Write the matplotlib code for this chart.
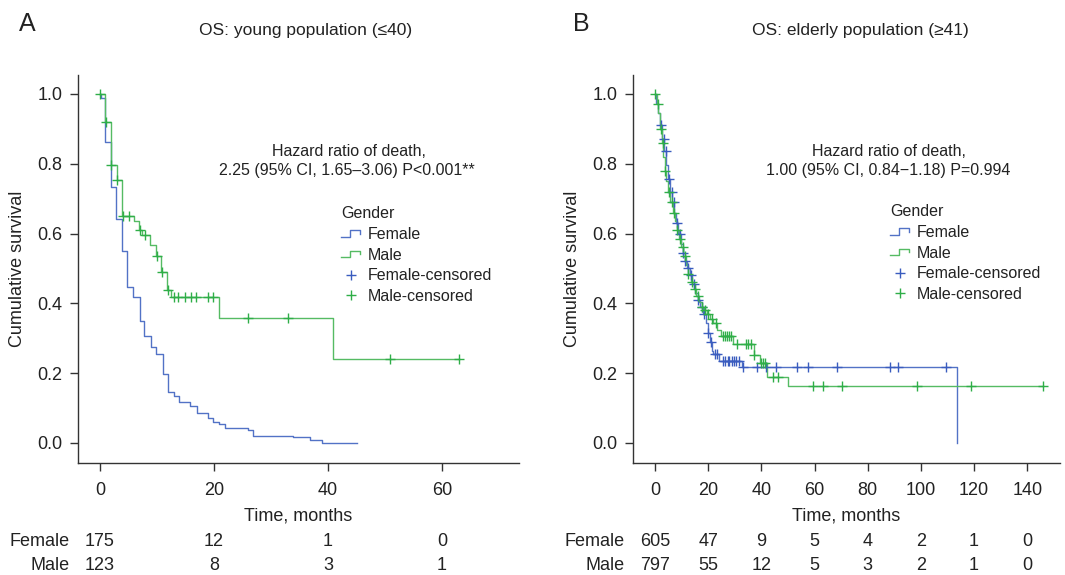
"""Kaplan-Meier OS curves by gender, young vs elderly population."""

import numpy as np
import matplotlib
matplotlib.use('Agg')
import matplotlib.pyplot as plt
from matplotlib.lines import Line2D
from matplotlib.legend_handler import HandlerBase
from matplotlib.transforms import blended_transform_factory

plt.rcParams['font.family'] = ['Liberation Sans', 'DejaVu Sans']

BLUE = '#5272c6'
BLUE_MK = '#3a5cbf'
GREEN = '#55bb63'
GREEN_MK = '#2fae48'
DARK = '#333333'

# ---- young population (<=40) ----
young_f_t = [0, 0.2, 0.9, 1.9, 2.75, 3.8, 4.8, 5.85, 7.0, 7.8, 8.95, 9.9, 11.0, 12.0, 12.9,
             13.9, 15.8, 17.0, 18.9, 19.9, 20.9, 22.0, 25.9, 26.9, 33.9, 36.8, 38.9, 45.0]
young_f_s = [1.0, 0.988, 0.863, 0.734, 0.642, 0.551, 0.448, 0.419, 0.350, 0.307, 0.276, 0.254,
             0.198, 0.145, 0.136, 0.117, 0.106, 0.087, 0.073, 0.059, 0.054, 0.043, 0.037, 0.021,
             0.016, 0.009, 0.0, 0.0]
young_f_cens = []

young_m_t = [0, 0.9, 1.9, 2.9, 3.9, 6.0, 6.9, 7.3, 8.8, 9.9, 10.7, 11.8, 12.5, 20.9, 40.9, 63.0]
young_m_s = [1.0, 0.918, 0.795, 0.754, 0.650, 0.637, 0.610, 0.596, 0.567, 0.537, 0.489, 0.439,
             0.419, 0.359, 0.240, 0.240]
young_m_cens = [0, 1.0, 2.0, 3.0, 4.0, 5.0, 7.1, 7.9, 10.0, 10.8, 11.9, 12.9, 13.7, 14.9, 15.9,
                16.9, 19.0, 19.9, 25.9, 32.9, 50.9, 62.9]

young_ticks = [0, 20, 40, 60]
young_risk_f = [175, 12, 1, 0]
young_risk_m = [123, 8, 3, 1]

# ---- elderly population (>=41) ----
eld_f_t = [0, 0.5, 1.2, 2.0, 2.8, 3.5, 4.2, 5.0, 5.8, 6.5, 7.2, 8.0, 8.8, 9.6, 10.4, 11.2, 12.2,
           13.0, 14.0, 15.0, 16.0, 17.0, 18.0, 19.0, 20.0, 20.6, 21.3, 22.0, 24.0, 32.6, 113.4]
eld_f_s = [1.0, 0.975, 0.945, 0.910, 0.870, 0.835, 0.795, 0.755, 0.720, 0.690, 0.660, 0.630,
           0.600, 0.570, 0.545, 0.520, 0.500, 0.480, 0.455, 0.430, 0.410, 0.390, 0.370, 0.345,
           0.314, 0.290, 0.264, 0.255, 0.236, 0.217, 0.0]
eld_f_cens = [2.1, 3.4, 4.1, 5.3, 6.3, 7.1, 8.4, 9.4, 10.4, 11.3, 12.5, 13.5, 14.8, 16.0, 17.5,
              18.5, 20.0, 21.0, 22.5, 23.5, 25.7, 26.5, 27.3, 28.0, 28.8, 29.6, 30.4, 31.5,
              33.2, 38.5, 41.7, 45.4, 53.3, 57.4, 68.3, 88.3, 91.5, 109.4]

eld_m_t = [0, 0.8, 1.3, 2.0, 2.6, 3.0, 3.6, 4.3, 5.0, 5.8, 6.6, 7.4, 8.2, 9.0, 9.8, 10.6, 11.5,
           12.5, 13.5, 14.5, 15.5, 16.5, 17.5, 18.5, 19.5, 20.7, 22.0, 23.2, 24.8, 29.4, 37.2,
           39.4, 42.2, 50.1, 146.0]
eld_m_s = [1.0, 0.97, 0.945, 0.90, 0.86, 0.82, 0.78, 0.75, 0.72, 0.69, 0.66, 0.635, 0.61, 0.585,
           0.56, 0.535, 0.51, 0.485, 0.46, 0.44, 0.42, 0.405, 0.39, 0.38, 0.37, 0.355, 0.343,
           0.325, 0.307, 0.284, 0.252, 0.230, 0.190, 0.163, 0.163]
eld_m_cens = [0, 1.25, 2.1, 2.9, 3.8, 5.3, 6.3, 7.1, 8.4, 9.4, 10.4, 11.3, 12.5, 13.8, 15.0,
              16.2, 17.5, 18.8, 20.0, 21.5, 23.0, 25.7, 26.4, 27.1, 27.8, 28.4, 30.9, 34.2,
              35.1, 36.0, 37.2, 39.9, 40.6, 41.3, 44.4, 46.3, 59.5, 63.3, 70.4, 98.4, 118.7, 146]

eld_ticks = [0, 20, 40, 60, 80, 100, 120, 140]
eld_risk_f = [605, 47, 9, 5, 4, 2, 1, 0]
eld_risk_m = [797, 55, 12, 5, 3, 2, 1, 0]

W, H = 1065, 575


class StepHandler(HandlerBase):
    """Legend key drawn as a small step."""
    def create_artists(self, legend, orig_handle, xdescent, ydescent, width, height,
                       fontsize, trans):
        x0, y0 = -xdescent, -ydescent
        xs = [x0, x0 + 0.45 * width, x0 + 0.45 * width, x0 + width, x0 + width]
        ys = [y0 + 0.2 * height, y0 + 0.2 * height, y0 + 0.75 * height,
              y0 + 0.75 * height, y0 + 0.45 * height]
        line = Line2D(xs, ys, color=orig_handle.get_color(), lw=orig_handle.get_linewidth())
        line.set_transform(trans)
        return [line]


def surv_at(times, surv, t):
    idx = np.searchsorted(times, t, side='right') - 1
    return np.asarray(surv)[idx]


def panel(fig, rect, xlim, ticks, f_t, f_s, f_c, m_t, m_s, m_c, risk_f, risk_m,
          label_x, leg_xy, hr_lines):
    ax = fig.add_axes(rect)
    lf, = ax.step(f_t, f_s, where='post', color=BLUE, lw=1.0)
    lm, = ax.step(m_t, m_s, where='post', color=GREEN, lw=1.0)
    cf, = ax.plot(f_c, surv_at(f_t, f_s, f_c) if len(f_c) else [], ls='none', marker='+',
                  ms=6.5, mew=1.0, color=BLUE_MK)
    cm, = ax.plot(m_c, surv_at(m_t, m_s, m_c), ls='none', marker='+', ms=6.5, mew=1.0,
                  color=GREEN_MK)

    ax.set_xlim(*xlim)
    ax.set_ylim(-0.0573, 1.054)
    ax.set_xticks(ticks)
    ax.set_yticks([0.0, 0.2, 0.4, 0.6, 0.8, 1.0])
    ax.set_yticklabels([f'{v:.1f}' for v in [0.0, 0.2, 0.4, 0.6, 0.8, 1.0]])
    for s in ['top', 'right']:
        ax.spines[s].set_visible(False)
    for s in ['left', 'bottom']:
        ax.spines[s].set_color(DARK)
        ax.spines[s].set_linewidth(1.0)
    ax.tick_params(length=6, width=1.0, color=DARK, labelsize=13, labelcolor='#222222')
    ax.tick_params(axis='x', pad=8)
    ax.tick_params(axis='y', pad=5)
    ax.set_xlabel('Time, months', fontsize=13, color='#222222', labelpad=6)
    ax.set_ylabel('Cumulative survival', fontsize=13, color='#222222', labelpad=8)

    leg = ax.legend([lf, lm, cf, cm], ['Female', 'Male', 'Female-censored', 'Male-censored'],
                    handler_map={lf: StepHandler(), lm: StepHandler()},
                    title='Gender', alignment='left', frameon=False,
                    loc='upper left', bbox_to_anchor=(leg_xy[0] / W, 1 - leg_xy[1] / H),
                    bbox_transform=fig.transFigure, borderpad=0, borderaxespad=0,
                    handlelength=1.2, handletextpad=0.5, labelspacing=0.36,
                    fontsize=11.5, title_fontsize=11.5)
    leg.get_title().set_color('#222222')
    for t in leg.get_texts():
        t.set_color('#222222')

    for (txt, xr, yc) in hr_lines:
        fig.text(xr / W, 1 - yc / H, txt, ha='right', va='center', fontsize=11.5,
                 color='#222222')

    tr = blended_transform_factory(ax.transData, fig.transFigure)
    for x, a, b in zip(ticks, risk_f, risk_m):
        ax.text(x, 1 - 541 / H, str(a), transform=tr, ha='center', va='center',
                fontsize=13, color='#222222')
        ax.text(x, 1 - 565 / H, str(b), transform=tr, ha='center', va='center',
                fontsize=13, color='#222222')
    fig.text(label_x / W, 1 - 541 / H, 'Female', ha='right', va='center', fontsize=13,
             color='#222222')
    fig.text(label_x / W, 1 - 565 / H, 'Male', ha='right', va='center', fontsize=13,
             color='#222222')
    return ax


fig = plt.figure(figsize=(W / 100, H / 100), dpi=100)

bottom = (H - 463) / H
height = (463 - 75) / H

panel(fig, [78 / W, bottom, (519 - 78) / W, height], (-3.86, 73.5), young_ticks,
      young_f_t, young_f_s, young_f_cens, young_m_t, young_m_s, young_m_cens,
      young_risk_f, young_risk_m, 70, (341, 206),
      [('Hazard ratio of death,', 426, 151),
       ('2.25 (95% CI, 1.65\u20133.06) P<0.001**', 475, 171)])

panel(fig, [633 / W, bottom, (1060 - 633) / W, height], (-8.27, 152.3), eld_ticks,
      eld_f_t, eld_f_s, eld_f_cens, eld_m_t, eld_m_s, eld_m_cens,
      eld_risk_f, eld_risk_m, 625, (890, 204),
      [('Hazard ratio of death,', 966, 151),
       ('1.00 (95% CI, 0.84\u22121.18) P=0.994', 1010, 171)])

fig.text(306 / W, 1 - 30 / H, 'OS: young population (\u226440)', ha='center', va='center',
         fontsize=12.5, color='#222222')
fig.text(860 / W, 1 - 30 / H, 'OS: elderly population (\u226541)', ha='center', va='center',
         fontsize=12.5, color='#222222')
fig.text(27 / W, 1 - 24 / H, 'A', ha='center', va='center', fontsize=18, color='#222222')
fig.text(581 / W, 1 - 24 / H, 'B', ha='center', va='center', fontsize=18, color='#222222')

fig.savefig('out.png', dpi=100)
